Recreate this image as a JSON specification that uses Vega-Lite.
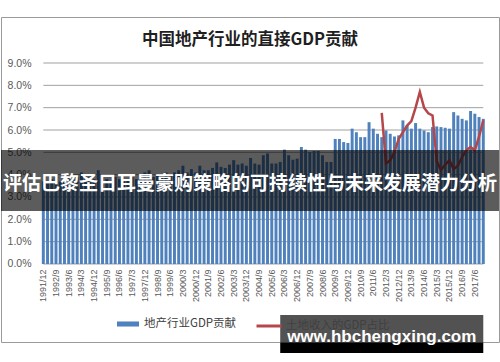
{
  "$schema": "https://vega.github.io/schema/vega-lite/v6.json",
  "width": 498,
  "height": 325,
  "autosize": {"type": "none"},
  "padding": {"left": 1, "top": 17, "right": 1, "bottom": 20},
  "background": "white",
  "config": {
    "view": {"stroke": "#9a9a9a", "strokeWidth": 1},
    "font": "Liberation Sans",
    "axis": {"labelOverlap": false}
  },
  "title": {
    "text": "中国地产行业的直接GDP贡献",
    "font": "Noto Sans CJK SC",
    "fontSize": 16.5,
    "fontWeight": "bold",
    "color": "#1f1f1f",
    "anchor": "middle",
    "frame": "group",
    "baseline": "alphabetic",
    "offset": -44
  },
  "datasets": {
    "main": [
      {"q": "1991/12", "gdp": 3.7}, {"q": "1992/3", "gdp": 3.6}, {"q": "1992/6", "gdp": 3.8}, {"q": "1992/9", "gdp": 3.9},
      {"q": "1992/12", "gdp": 3.7}, {"q": "1993/3", "gdp": 3.8}, {"q": "1993/6", "gdp": 3.9}, {"q": "1993/9", "gdp": 3.8},
      {"q": "1993/12", "gdp": 3.9}, {"q": "1994/3", "gdp": 4.1}, {"q": "1994/6", "gdp": 3.8}, {"q": "1994/9", "gdp": 3.9},
      {"q": "1994/12", "gdp": 3.8}, {"q": "1995/3", "gdp": 4.2}, {"q": "1995/6", "gdp": 3.9}, {"q": "1995/9", "gdp": 3.8},
      {"q": "1995/12", "gdp": 3.7}, {"q": "1996/3", "gdp": 3.9}, {"q": "1996/6", "gdp": 3.8}, {"q": "1996/9", "gdp": 3.7},
      {"q": "1996/12", "gdp": 3.8}, {"q": "1997/3", "gdp": 3.9}, {"q": "1997/6", "gdp": 3.8}, {"q": "1997/9", "gdp": 3.9},
      {"q": "1997/12", "gdp": 4.1}, {"q": "1998/3", "gdp": 4.2}, {"q": "1998/6", "gdp": 3.9}, {"q": "1998/9", "gdp": 4.0},
      {"q": "1998/12", "gdp": 3.9}, {"q": "1999/3", "gdp": 4.1}, {"q": "1999/6", "gdp": 4.0}, {"q": "1999/9", "gdp": 4.1},
      {"q": "1999/12", "gdp": 4.2}, {"q": "2000/3", "gdp": 4.4}, {"q": "2000/6", "gdp": 4.1}, {"q": "2000/9", "gdp": 4.25},
      {"q": "2000/12", "gdp": 4.1}, {"q": "2001/3", "gdp": 4.4}, {"q": "2001/6", "gdp": 4.2}, {"q": "2001/9", "gdp": 4.2},
      {"q": "2001/12", "gdp": 4.3}, {"q": "2002/3", "gdp": 4.55}, {"q": "2002/6", "gdp": 4.35}, {"q": "2002/9", "gdp": 4.3},
      {"q": "2002/12", "gdp": 4.45}, {"q": "2003/3", "gdp": 4.65}, {"q": "2003/6", "gdp": 4.45}, {"q": "2003/9", "gdp": 4.5},
      {"q": "2003/12", "gdp": 4.4}, {"q": "2004/3", "gdp": 4.75}, {"q": "2004/6", "gdp": 4.5}, {"q": "2004/9", "gdp": 4.45},
      {"q": "2004/12", "gdp": 4.87}, {"q": "2005/3", "gdp": 4.95}, {"q": "2005/6", "gdp": 4.5}, {"q": "2005/9", "gdp": 4.5},
      {"q": "2005/12", "gdp": 4.57}, {"q": "2006/3", "gdp": 5.12}, {"q": "2006/6", "gdp": 4.87}, {"q": "2006/9", "gdp": 4.67},
      {"q": "2006/12", "gdp": 4.72}, {"q": "2007/3", "gdp": 5.24}, {"q": "2007/6", "gdp": 5.12}, {"q": "2007/9", "gdp": 5.01},
      {"q": "2007/12", "gdp": 5.06}, {"q": "2008/3", "gdp": 5.06}, {"q": "2008/6", "gdp": 4.87}, {"q": "2008/9", "gdp": 4.57},
      {"q": "2008/12", "gdp": 4.57}, {"q": "2009/3", "gdp": 5.6}, {"q": "2009/6", "gdp": 5.6}, {"q": "2009/9", "gdp": 5.46},
      {"q": "2009/12", "gdp": 5.42}, {"q": "2010/3", "gdp": 6.06}, {"q": "2010/6", "gdp": 5.9}, {"q": "2010/9", "gdp": 5.68},
      {"q": "2010/12", "gdp": 5.68}, {"q": "2011/3", "gdp": 6.35}, {"q": "2011/6", "gdp": 6.06}, {"q": "2011/9", "gdp": 5.83},
      {"q": "2011/12", "gdp": 5.68, "land": 6.77}, {"q": "2012/3", "gdp": 5.98, "land": 4.5}, {"q": "2012/6", "gdp": 5.83, "land": 4.64},
      {"q": "2012/9", "gdp": 5.71, "land": 5.0}, {"q": "2012/12", "gdp": 5.76, "land": 5.6}, {"q": "2013/3", "gdp": 6.43, "land": 5.9},
      {"q": "2013/6", "gdp": 6.2, "land": 6.2}, {"q": "2013/9", "gdp": 6.06, "land": 6.4}, {"q": "2013/12", "gdp": 6.31, "land": 7.0},
      {"q": "2014/3", "gdp": 6.06, "land": 7.7}, {"q": "2014/6", "gdp": 5.98, "land": 7.0}, {"q": "2014/9", "gdp": 5.9, "land": 6.75},
      {"q": "2014/12", "gdp": 6.13, "land": 6.65}, {"q": "2015/3", "gdp": 6.16, "land": 4.6}, {"q": "2015/6", "gdp": 6.13, "land": 4.2},
      {"q": "2015/9", "gdp": 6.1, "land": 4.45}, {"q": "2015/12", "gdp": 6.06, "land": 4.64}, {"q": "2016/3", "gdp": 6.8, "land": 4.25},
      {"q": "2016/6", "gdp": 6.65, "land": 4.4}, {"q": "2016/9", "gdp": 6.5, "land": 4.79}, {"q": "2016/12", "gdp": 6.43, "land": 5.1},
      {"q": "2017/3", "gdp": 6.85, "land": 5.24}, {"q": "2017/6", "gdp": 6.73, "land": 5.09}, {"q": "2017/9", "gdp": 6.58, "land": 5.7},
      {"q": "2017/12", "gdp": 6.5, "land": 6.43}
    ],
    "gridvals": [{"v": 0}, {"v": 1}, {"v": 2}, {"v": 3}, {"v": 4}, {"v": 5}, {"v": 6}, {"v": 7}, {"v": 8}, {"v": 9}],
    "one": [{"k": 1}]
  },
  "data": {"name": "main"},
  "layer": [
    {
      "data": {"name": "gridvals"},
      "mark": {"type": "rule", "stroke": "#a0a0a0", "strokeWidth": 1},
      "encoding": {
        "x": {"datum": "1991/12", "type": "ordinal"},
        "x2": {"datum": "2017/12"},
        "y": {"field": "v", "type": "quantitative"}
      }
    },
    {
      "mark": {"type": "bar"},
      "encoding": {
        "x": {
          "field": "q", "type": "ordinal", "title": null,
          "scale": {
            "domain": ["1991/12","1992/3","1992/6","1992/9","1992/12","1993/3","1993/6","1993/9","1993/12","1994/3","1994/6","1994/9","1994/12","1995/3","1995/6","1995/9","1995/12","1996/3","1996/6","1996/9","1996/12","1997/3","1997/6","1997/9","1997/12","1998/3","1998/6","1998/9","1998/12","1999/3","1999/6","1999/9","1999/12","2000/3","2000/6","2000/9","2000/12","2001/3","2001/6","2001/9","2001/12","2002/3","2002/6","2002/9","2002/12","2003/3","2003/6","2003/9","2003/12","2004/3","2004/6","2004/9","2004/12","2005/3","2005/6","2005/9","2005/12","2006/3","2006/6","2006/9","2006/12","2007/3","2007/6","2007/9","2007/12","2008/3","2008/6","2008/9","2008/12","2009/3","2009/6","2009/9","2009/12","2010/3","2010/6","2010/9","2010/12","2011/3","2011/6","2011/9","2011/12","2012/3","2012/6","2012/9","2012/12","2013/3","2013/6","2013/9","2013/12","2014/3","2014/6","2014/9","2014/12","2015/3","2015/6","2015/9","2015/12","2016/3","2016/6","2016/9","2016/12","2017/3","2017/6","2017/9","2017/12"],
            "range": [40.2, 484.4],
            "paddingInner": 0.3,
            "paddingOuter": 0.15
          },
          "axis": {
            "values": ["1991/12","1992/9","1993/6","1994/3","1994/12","1995/9","1996/6","1997/3","1997/12","1998/9","1999/6","2000/3","2000/12","2001/9","2002/6","2003/3","2003/12","2004/9","2005/6","2006/3","2006/12","2007/9","2008/6","2009/3","2009/12","2010/9","2011/6","2012/3","2012/12","2013/9","2014/6","2015/3","2015/12","2016/9","2017/6"],
            "offset": -78,
            "labelAngle": -90,
            "labelFontSize": 9,
            "labelColor": "#595959",
            "labelPadding": 5,
            "ticks": false,
            "tickSize": 0,
            "domain": false,
            "grid": false,
            "labelOverlap": false
          }
        },
        "y": {
          "field": "gdp", "type": "quantitative", "title": null,
          "scale": {"domain": [-3.493, 11.06], "nice": false, "zero": false},
          "axis": {
            "values": [0, 1, 2, 3, 4, 5, 6, 7, 8, 9],
            "tickCount": 30,
            "labelExpr": "format(datum.value, '.1f') + '%'",
            "offset": -30,
            "labelFontSize": 10.5,
            "labelColor": "#595959",
            "labelPadding": 0,
            "labelOverlap": false,
            "labelFlush": false,
            "ticks": false,
            "tickSize": 0,
            "domain": false,
            "grid": false
          }
        },
        "y2": {"datum": 0},
        "fill": {
          "datum": "地产行业GDP贡献", "type": "nominal",
          "scale": {"range": ["#4f81bd"]},
          "legend": {
            "orient": "none", "legendX": 116, "legendY": 296, "title": null, "padding": 0,
            "symbolType": "M-1,-0.23H1V0.23H-1Z", "symbolSize": 484, "symbolStrokeWidth": 0,
            "labelFont": "Noto Sans CJK SC", "labelFontSize": 11.5, "labelColor": "#404040", "labelOffset": 5
          }
        }
      }
    },
    {
      "mark": {"type": "line", "strokeWidth": 2.5},
      "encoding": {
        "x": {"field": "q", "type": "ordinal"},
        "y": {"field": "land", "type": "quantitative"},
        "stroke": {
          "datum": "土地收入的GDP占比", "type": "nominal",
          "scale": {"range": ["#b5464a"]},
          "legend": {
            "orient": "none", "legendX": 254, "legendY": 295, "title": null, "padding": 0,
            "symbolType": "stroke", "symbolSize": 625, "symbolStrokeWidth": 3,
            "labelFont": "Noto Sans CJK SC", "labelFontSize": 11.5, "labelColor": "#404040", "labelOffset": 3
          }
        }
      }
    },
    {
      "data": {"name": "one"},
      "mark": {"type": "rect", "fill": "#000000", "opacity": 0.64},
      "encoding": {
        "y": {"datum": 5.1, "type": "quantitative"},
        "y2": {"datum": 2.37}
      }
    },
    {
      "data": {"name": "one"},
      "mark": {"type": "text", "text": "评估巴黎圣日耳曼豪购策略的可持续性与未来发展潜力分析", "font": "Noto Sans CJK SC", "fontSize": 19, "fontWeight": "bold", "fill": "#ffffff", "baseline": "middle", "align": "center"},
      "encoding": {
        "y": {"datum": 3.58, "type": "quantitative"}
      }
    },
    {
      "data": {"name": "one"},
      "mark": {"type": "rect", "fill": "#000000", "opacity": 0.68, "clip": false},
      "encoding": {
        "x": {"datum": "2005/12"},
        "x2": {"datum": "2017/12"},
        "y": {"datum": -2.28, "type": "quantitative"},
        "y2": {"datum": -3.54}
      }
    },
    {
      "data": {"name": "one"},
      "mark": {"type": "rect", "fill": "#000000", "opacity": 1, "clip": false},
      "encoding": {
        "x": {"datum": "2005/12"},
        "x2": {"datum": "2017/12"},
        "y": {"datum": -3.54, "type": "quantitative"},
        "y2": {"datum": -3.99}
      }
    },
    {
      "data": {"name": "one"},
      "mark": {"type": "text", "text": "www.hbchengxing.com", "font": "Liberation Sans", "fontSize": 17, "fontWeight": "bold", "fill": "#ffffff", "baseline": "middle", "align": "center"},
      "encoding": {
        "x": {"datum": "2011/12"},
        "y": {"datum": -3.25, "type": "quantitative"}
      }
    }
  ]
}
